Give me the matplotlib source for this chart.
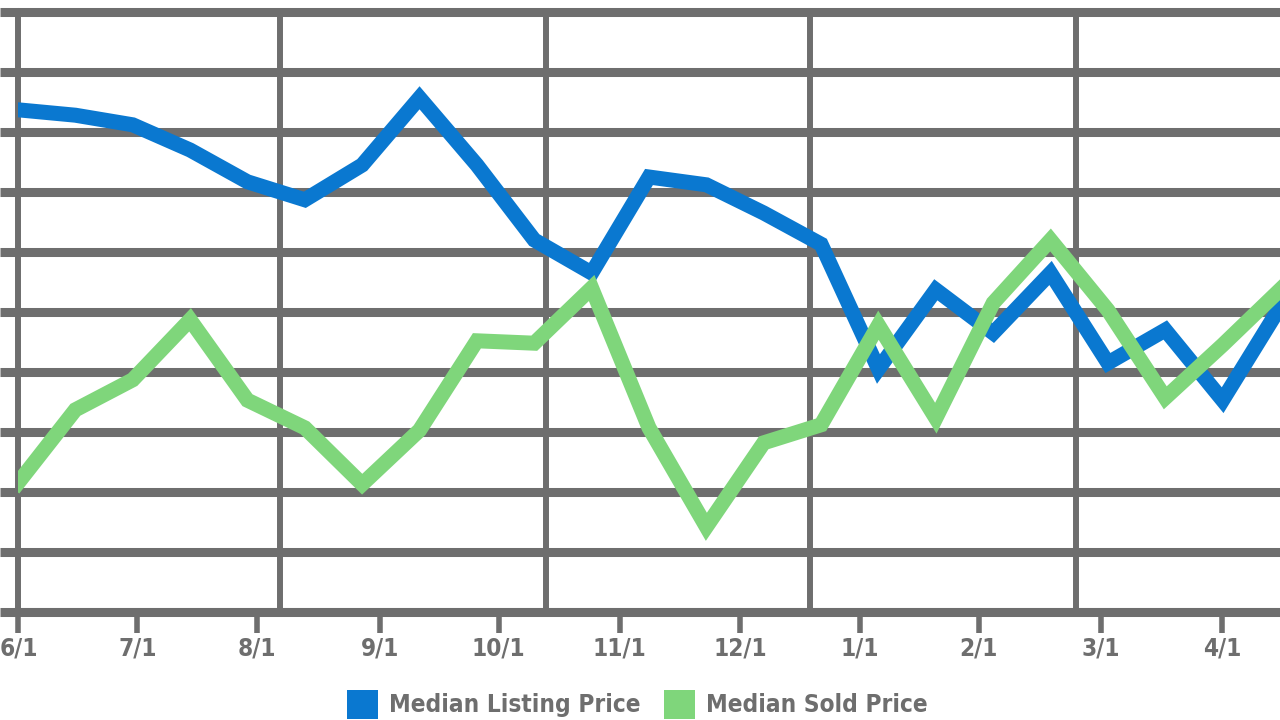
import numpy as np
import matplotlib
matplotlib.use("Agg")
import matplotlib.pyplot as plt
from matplotlib.patches import Patch
from matplotlib.transforms import ScaledTranslation

# Values (in grid units, 0 = bottom line, 10 = top line)
listing_price = [8.37, 8.28, 8.12, 7.70, 7.17, 6.87, 7.45, 8.57, 7.45, 6.20, 5.65,
                 7.25, 7.12, 6.65, 6.13, 4.05, 5.37, 4.65, 5.65, 4.15, 4.70, 3.53, 5.08]
sold_price = [2.15, 3.37, 3.87, 4.87, 3.53, 3.07, 2.13, 3.03, 4.52, 4.48, 5.40,
              3.07, 1.42, 2.82, 3.12, 4.78, 3.23, 5.15, 6.20, 5.03, 3.57, 4.45, 5.37]
month_labels = ['6/1', '7/1', '8/1', '9/1', '10/1', '11/1', '12/1', '1/1', '2/1', '3/1', '4/1']

# tick / grid placement (in point-index units)
month_pos = [0, 2.08, 4.17, 6.31, 8.38, 10.49, 12.59, 14.68, 16.75, 18.88, 20.99]
vgrid_pos = [4.57, 9.2, 13.81, 18.44]

blue = '#0a78d0'
green = '#7fd67b'
gray = '#6e6e6e'
plt.rcParams['font.family'] = ['DejaVu Sans']
plt.rcParams['font.stretch'] = 'condensed'

x = np.arange(len(listing_price))

fig = plt.figure(figsize=(12.8, 7.2), dpi=100, facecolor='white')
ax = fig.add_axes([18 / 1280, 108 / 720, 1262 / 1280, 612 / 720])

ax.plot(x, listing_price, color=blue, lw=10.8, solid_joinstyle='miter', zorder=3)
ax.plot(x, sold_price, color=green, lw=10.8, solid_joinstyle='miter', zorder=3)

ax.set_xlim(0, len(x) - 1)
ax.set_ylim(0, 10.2)

# horizontal grid
ax.set_yticks(np.arange(0, 11))
ax.set_yticklabels([])
ax.yaxis.grid(True, color=gray, lw=6.5)
ax.tick_params(axis='y', length=13, width=6.5, color=gray)

# vertical grid
for v in vgrid_pos:
    ax.axvline(v, ymin=0, ymax=10 / 10.2, color=gray, lw=4.3, zorder=1)

ax.set_xticks(month_pos)
ax.set_xticklabels(month_labels, fontsize=17.5, fontweight='bold', color=gray,
                   fontstretch='condensed')
ax.tick_params(axis='x', length=15, width=4, color=gray, pad=3)
first = ax.get_xticklabels()[0]
first.set_horizontalalignment('left')
first.set_transform(first.get_transform() + ScaledTranslation(-0.18, 0, fig.dpi_scale_trans))

for s in ['top', 'right']:
    ax.spines[s].set_visible(False)
ax.spines['left'].set_color(gray)
ax.spines['left'].set_linewidth(4.3)
ax.spines['left'].set_bounds(0, 10)
ax.spines['bottom'].set_color(gray)
ax.spines['bottom'].set_linewidth(6.5)
ax.set_axisbelow(True)

handles = [Patch(facecolor=blue, edgecolor='none'), Patch(facecolor=green, edgecolor='none')]
fig.legend(handles, ['Median Listing Price', 'Median Sold Price'], loc='center',
           bbox_to_anchor=(0.498, 0.022), ncol=2, frameon=False,
           prop={'size': 17.5, 'weight': 'bold', 'stretch': 'condensed'}, labelcolor=gray,
           handlelength=1.28, handleheight=1.45, handletextpad=0.45, columnspacing=0.95)

fig.savefig('out.png', dpi=100, facecolor='white')
